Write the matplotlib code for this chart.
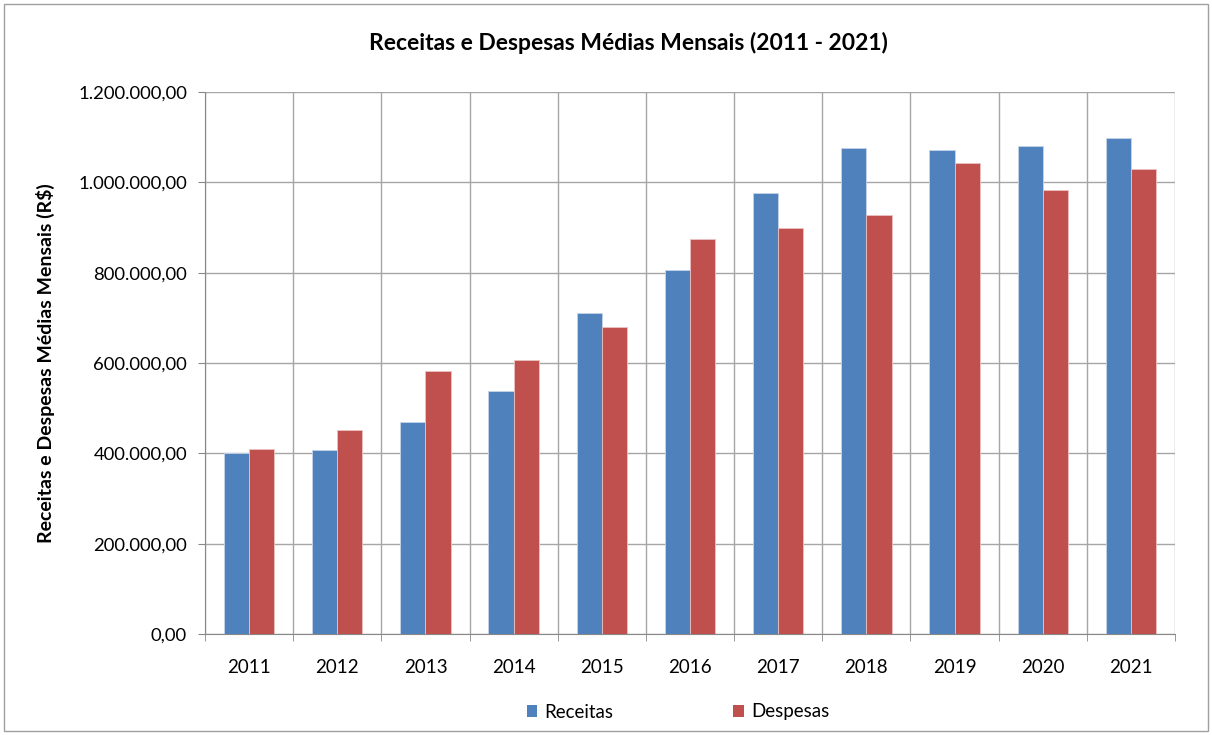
import matplotlib
matplotlib.use("Agg")
import matplotlib.pyplot as plt
import numpy as np
from matplotlib.ticker import FuncFormatter, FixedLocator
from matplotlib.patches import Rectangle, Patch

years = ["2011", "2012", "2013", "2014", "2015", "2016", "2017", "2018", "2019", "2020", "2021"]
receitas = [401000, 407000, 469500, 539000, 710300, 806200, 976100, 1076400, 1072000, 1080800, 1099200]
despesas = [409700, 451800, 582500, 607500, 679300, 874900, 899200, 928700, 1043200, 983400, 1030600]

plt.rcParams['font.family'] = ['Lato', 'DejaVu Sans']

fig = plt.figure(figsize=(12.12, 7.35), dpi=100)
ax = fig.add_axes([205/1212, 1-634/735, (1175-205)/1212, (634-92)/735])

x = np.arange(len(years))
w = 0.2857
ax.bar(x - w/2, receitas, w, color="#4F81BD", edgecolor="#C6D4EA", linewidth=0.6, label="Receitas", zorder=3)
ax.bar(x + w/2, despesas, w, color="#C0504D", edgecolor="#EBC2C1", linewidth=0.6, label="Despesas", zorder=3)

ax.set_xlim(-0.5, len(years) - 0.5)
ax.set_ylim(0, 1200000)
ax.set_yticks(np.arange(0, 1200001, 200000))
ax.yaxis.set_major_formatter(FuncFormatter(lambda v, p: f"{v:,.2f}".replace(",", "X").replace(".", ",").replace("X", ".")))
ax.set_xticks(x)
ax.set_xticklabels(years)
ax.xaxis.set_minor_locator(FixedLocator(np.arange(-0.5, len(years), 1)))
ax.tick_params(axis='x', which='major', length=0, pad=18, labelsize=13.5)
ax.tick_params(axis='x', which='minor', length=5, color="#888888", direction='out')
ax.tick_params(axis='y', length=5, color="#888888", direction='out', pad=8, labelsize=13.3)

ax.grid(axis='y', which='major', color="#A6A6A6", linewidth=1.0, zorder=0)
ax.grid(axis='x', which='minor', color="#A6A6A6", linewidth=1.0, zorder=0)
ax.grid(axis='x', which='major', visible=False)
for s in ['top', 'right']:
    ax.spines[s].set_visible(False)
ax.spines['left'].set_color("#888888")
ax.spines['bottom'].set_color("#888888")

ax.set_ylabel("Receitas e Despesas Médias Mensais (R$)", fontsize=14, fontweight='bold')
ax.yaxis.set_label_coords(-0.155, 0.5)

fig.text(628/1212, 1-43/735, "Receitas e Despesas Médias Mensais (2011 - 2021)", ha='center', va='center',
         fontsize=16.5, fontweight='bold')

handles = [Patch(facecolor="#4F81BD", label="Receitas"), Patch(facecolor="#C0504D", label="Despesas")]
fig.legend(handles=handles, loc='center', bbox_to_anchor=(678/1212, 1-712/735), ncol=2, frameon=False,
           fontsize=13.5, handlelength=0.55, handleheight=0.55, handletextpad=0.4, columnspacing=6.4)

fig.patches.append(Rectangle((4/1212, 4/735), 1204/1212, 727/735, transform=fig.transFigure,
                             fill=False, edgecolor="#A0A0A0", linewidth=1.0))

fig.savefig("out.png", dpi=100)
